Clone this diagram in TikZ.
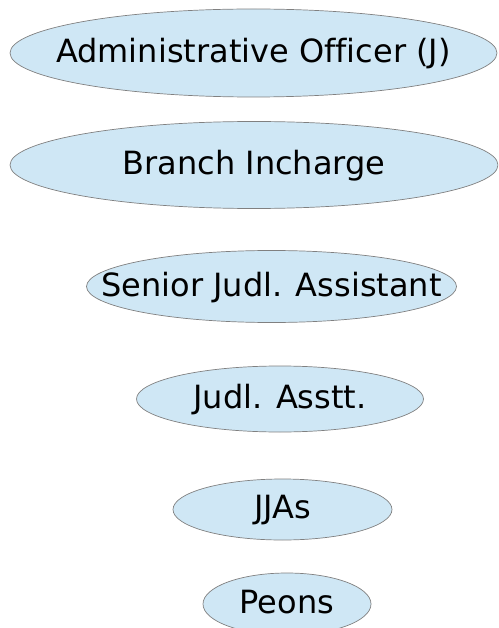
\documentclass[tikz,border=0pt]{standalone}
\usepackage{fontspec}
\setmainfont[Ligatures={NoCommon}]{DejaVu Sans}
\usetikzlibrary{shapes.geometric}
\definecolor{rolefill}{HTML}{CFE7F5}
\definecolor{roleline}{HTML}{808080}
\tikzset{
  role/.style={ellipse, draw=roleline, line width=0.7pt, fill=rolefill, inner sep=0pt},
  roletext/.style={font=\fontsize{32}{38}\selectfont, text=black, inner sep=0pt}
}
\begin{document}
\begin{tikzpicture}[x=1pt, y=-1pt]
  \useasboundingbox (0,0) rectangle (498,628);
  \begin{scope}
    \clip (0,0) rectangle (498,628);
    \node[role, minimum width=487pt, minimum height=88pt] (ao) at (253.5,53) {};
    \node[roletext] (aot) at ([yshift=-1pt]ao.center) {Administrative Officer (J)};
    \node[role, minimum width=488pt, minimum height=87pt] (bi) at (254,165) {};
    \node[roletext] (bit) at ([yshift=-1pt]bi.center) {Branch Incharge};
    \node[role, minimum width=370pt, minimum height=72pt] (sja) at (271.5,286.5) {};
    \node[roletext] (sjat) at ([yshift=-1pt]sja.center) {Senior Judl. Assistant};
    \node[role, minimum width=287pt, minimum height=66pt] (ja) at (280,399) {};
    \node[roletext] (jat) at ([yshift=-1pt]ja.center) {Judl. Asstt.};
    \node[role, minimum width=219pt, minimum height=61pt] (jja) at (282.5,509.5) {};
    \node[roletext] (jjat) at ([yshift=-1pt]jja.center) {JJAs};
    \node[role, minimum width=168pt, minimum height=62pt] (pe) at (287,604) {};
    \node[roletext] (pet) at ([yshift=2pt]pe.center) {Peons};
  \end{scope}
\end{tikzpicture}
\end{document}
